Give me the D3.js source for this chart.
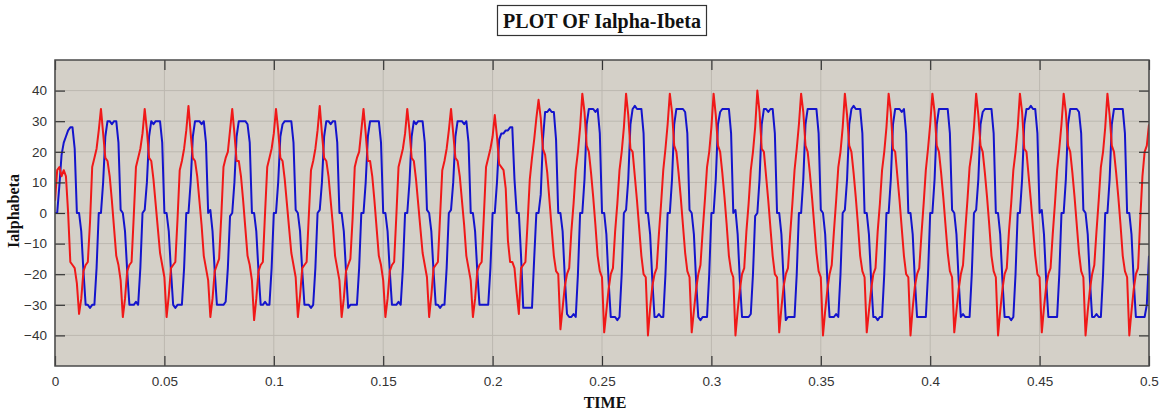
<!DOCTYPE html>
<html>
<head>
<meta charset="utf-8">
<script src="https://cdn.jsdelivr.net/npm/d3@7"></script>
<style>
  body { margin: 0; background: #fff; }
</style>
</head>
<body>
<div id="chartContainer"></div>
<script>
// time between two samples of the traces (1 ms), in seconds
var sampleStep = 0.001;

// Ialpha (blue trace), one row of 20 samples per 20 ms cycle
var ialphaRows = [
  [0, 0, 9, 19, 23, 25, 27, 28, 28, 21, 0, 0, -6, -19, -30, -30, -31, -30, -30, -18],
  [0, 0, 10, 25, 30, 30, 29, 30, 30, 23, 1, 0, -6, -19, -30, -30, -30, -29, -30, -18],
  [0, 1, 10, 25, 30, 29, 30, 30, 30, 23, 0, 0, -6, -19, -30, -31, -30, -30, -30, -18],
  [0, 0, 10, 25, 30, 30, 30, 29, 30, 23, 0, 1, -6, -19, -30, -30, -30, -30, -29, -18],
  [-1, 0, 10, 25, 30, 30, 30, 30, 29, 23, 0, 0, -6, -19, -30, -30, -29, -30, -30, -18],
  [0, 0, 10, 25, 29, 30, 30, 30, 30, 23, 1, 0, -6, -19, -30, -30, -30, -31, -30, -18],
  [0, 1, 10, 25, 30, 30, 29, 30, 30, 23, 0, 0, -6, -19, -31, -30, -30, -30, -30, -18],
  [0, 0, 10, 25, 30, 30, 30, 30, 30, 23, 0, 0, -6, -19, -30, -30, -30, -29, -30, -18],
  [0, 0, 10, 25, 30, 29, 30, 30, 30, 23, 1, 0, -6, -19, -30, -30, -31, -30, -30, -18],
  [0, 1, 10, 25, 30, 30, 30, 29, 30, 23, 0, 0, -6, -19, -30, -30, -30, -30, -30, -18],
  [0, 0, 10, 24, 26, 26, 27, 27, 28, 28, 11, 0, 0, -14, -31, -31, -31, -31, -31, -15],
  [0, 0, 6, 24, 33, 33, 34, 33, 33, 24, 0, 0, -6, -21, -33, -34, -34, -33, -34, -20],
  [0, 0, 11, 29, 34, 34, 34, 33, 34, 26, 0, 0, -7, -22, -34, -34, -34, -35, -34, -20],
  [0, 1, 11, 29, 34, 35, 34, 34, 34, 26, 0, 0, -7, -22, -34, -34, -33, -34, -34, -20],
  [0, 0, 11, 29, 34, 34, 34, 34, 33, 26, 1, 0, -7, -22, -34, -35, -34, -34, -34, -20],
  [0, 0, 11, 29, 33, 34, 34, 34, 34, 26, 0, 1, -7, -22, -34, -34, -34, -34, -33, -20],
  [-1, 0, 11, 29, 34, 34, 33, 34, 34, 26, 0, 0, -7, -22, -35, -34, -34, -34, -34, -20],
  [0, 0, 11, 29, 34, 34, 34, 34, 34, 26, 1, 0, -7, -22, -34, -34, -34, -33, -34, -20],
  [0, 1, 11, 29, 34, 35, 34, 34, 34, 26, 0, 0, -7, -22, -34, -34, -35, -34, -34, -20],
  [0, 0, 11, 29, 34, 34, 34, 33, 34, 26, 0, 0, -7, -22, -34, -34, -34, -34, -34, -20],
  [0, 0, 11, 29, 34, 34, 34, 34, 34, 26, 1, 0, -7, -22, -34, -33, -34, -34, -34, -20],
  [0, 1, 11, 29, 33, 34, 34, 34, 34, 26, 0, 0, -7, -22, -34, -34, -34, -35, -34, -20],
  [0, 0, 11, 29, 34, 34, 35, 34, 34, 26, 0, 1, -7, -22, -34, -34, -34, -34, -34, -20],
  [0, 0, 11, 29, 34, 34, 34, 34, 33, 26, 1, 0, -7, -22, -34, -34, -33, -34, -34, -20],
  [0, 0, 11, 29, 34, 34, 34, 34, 34, 26, 0, 0, -7, -22, -34, -34, -34, -34, -34, -30]
];
var ialphaLast = -14;

// Ibeta (red trace), same layout
var ibetaRows = [
  [4, 14, 15, 12, 14, 12, 0, -16, -17, -18, -23, -33, -28, -19, -17, -16, -3, 15, 18, 21],
  [27, 34, 26, 18, 17, 12, 4, -5, -14, -17, -22, -34, -28, -19, -17, -16, -1, 15, 18, 21],
  [26, 34, 27, 18, 17, 11, 3, -5, -13, -17, -21, -34, -27, -18, -17, -16, -2, 14, 17, 21],
  [27, 35, 26, 18, 17, 12, 4, -4, -14, -18, -22, -34, -28, -19, -17, -15, -1, 15, 18, 20],
  [27, 34, 26, 17, 17, 12, 4, -5, -14, -17, -22, -35, -28, -19, -17, -16, 0, 15, 18, 21],
  [26, 34, 27, 18, 17, 11, 3, -5, -13, -17, -21, -34, -27, -18, -17, -16, -1, 14, 17, 21],
  [27, 35, 26, 18, 17, 12, 4, -4, -14, -18, -22, -34, -28, -19, -17, -15, -2, 15, 18, 20],
  [27, 34, 26, 17, 17, 12, 4, -5, -14, -17, -22, -34, -28, -19, -17, -16, -1, 15, 18, 21],
  [26, 34, 27, 18, 17, 11, 3, -5, -13, -17, -21, -34, -27, -18, -17, -16, -1, 14, 17, 21],
  [27, 34, 26, 18, 17, 12, 4, -4, -14, -18, -22, -34, -28, -19, -17, -16, -1, 15, 18, 21],
  [25, 32, 25, 16, 15, 14, 8, -9, -16, -16, -18, -26, -33, -18, -17, -16, -3, 11, 18, 24],
  [31, 37, 31, 21, 19, 13, 4, -5, -14, -19, -20, -38, -31, -24, -20, -18, -6, 3, 14, 20],
  [28, 39, 33, 22, 20, 13, 5, -4, -14, -19, -21, -39, -32, -25, -20, -18, -6, 3, 14, 20],
  [28, 39, 32, 21, 20, 12, 4, -5, -14, -20, -21, -40, -31, -24, -20, -18, -7, 3, 14, 21],
  [29, 39, 33, 22, 20, 13, 5, -4, -13, -19, -21, -39, -32, -25, -20, -17, -6, 4, 15, 20],
  [28, 39, 32, 22, 20, 13, 5, -4, -14, -19, -21, -40, -32, -25, -20, -18, -6, 3, 14, 20],
  [28, 40, 33, 21, 20, 12, 4, -5, -14, -20, -21, -39, -31, -24, -20, -18, -7, 3, 14, 21],
  [29, 39, 33, 22, 20, 13, 5, -4, -13, -19, -21, -40, -32, -25, -20, -17, -6, 4, 15, 20],
  [28, 39, 32, 22, 20, 13, 5, -4, -14, -19, -21, -39, -32, -25, -20, -18, -6, 3, 14, 20],
  [28, 39, 33, 21, 20, 12, 4, -5, -14, -20, -21, -40, -31, -24, -20, -18, -7, 3, 14, 21],
  [29, 39, 33, 22, 20, 13, 5, -4, -13, -19, -21, -39, -32, -25, -20, -17, -6, 4, 15, 20],
  [28, 39, 32, 22, 20, 13, 5, -4, -14, -19, -21, -40, -32, -25, -20, -18, -6, 3, 14, 20],
  [28, 39, 33, 21, 20, 12, 4, -5, -14, -20, -21, -39, -31, -24, -20, -18, -7, 3, 14, 21],
  [29, 39, 33, 22, 20, 13, 5, -4, -13, -19, -21, -40, -32, -25, -20, -17, -6, 4, 15, 20],
  [28, 39, 32, 22, 20, 13, 5, -4, -14, -19, -21, -40, -32, -25, -20, -18, -2, 12, 20, 22]
];
var ibetaLast = 29;

var xTicks = [0, 0.05, 0.1, 0.15, 0.2, 0.25, 0.3, 0.35, 0.4, 0.45, 0.5];
var xTickLabels = ["0", "0.05", "0.1", "0.15", "0.2", "0.25", "0.3", "0.35", "0.4", "0.45", "0.5"];
var yTicks = [-40, -30, -20, -10, 0, 10, 20, 30, 40];

var width = 1163, height = 412;
// plot box edges (note: "top" is taken by window.top)
var plotLeft = 55, plotRight = 1149, plotTop = 60, plotBottom = 366;

var svg = d3.select("#chartContainer")
  .append("svg")
  .attr("width", width)
  .attr("height", height);

var x = d3.scaleLinear().domain([0, 0.5]).range([plotLeft, plotRight]);
var y = d3.scaleLinear().domain([-50, 50]).range([plotBottom, plotTop]);

// plot background
svg.append("rect")
  .attr("x", plotLeft).attr("y", plotTop)
  .attr("width", plotRight - plotLeft).attr("height", plotBottom - plotTop)
  .style("fill", "#d4d0c8");

// grid
svg.selectAll(".xgrid")
  .data(xTicks)
  .enter()
  .append("line")
  .attr("x1", function (d) { return x(d); })
  .attr("x2", function (d) { return x(d); })
  .attr("y1", plotTop).attr("y2", plotBottom)
  .style("stroke", "#bcb8b0")
  .style("stroke-width", 1);

svg.selectAll(".ygrid")
  .data(yTicks)
  .enter()
  .append("line")
  .attr("x1", plotLeft).attr("x2", plotRight)
  .attr("y1", function (d) { return y(d); })
  .attr("y2", function (d) { return y(d); })
  .style("stroke", "#bcb8b0")
  .style("stroke-width", 1);

// traces
svg.append("clipPath").attr("id", "plotClip")
  .append("rect")
  .attr("x", plotLeft).attr("y", plotTop)
  .attr("width", plotRight - plotLeft).attr("height", plotBottom - plotTop);

function toPoints(rows, last) {
  var vals = [].concat.apply([], rows).concat([last]);
  return vals.map(function (v, i) { return [i * sampleStep, v]; });
}

var line = d3.line()
  .x(function (d) { return x(d[0]); })
  .y(function (d) { return y(d[1]); });

svg.append("path")
  .datum(toPoints(ialphaRows, ialphaLast))
  .attr("d", line)
  .attr("clip-path", "url(#plotClip)")
  .style("fill", "none")
  .style("stroke", "#1414cc")
  .style("stroke-width", 2)
  .style("stroke-linejoin", "round");

svg.append("path")
  .datum(toPoints(ibetaRows, ibetaLast))
  .attr("d", line)
  .attr("clip-path", "url(#plotClip)")
  .style("fill", "none")
  .style("stroke", "#f01818")
  .style("stroke-width", 2)
  .style("stroke-linejoin", "round");

// axes, ticks pointing inward
var xAxis = d3.axisBottom(x).tickValues(xTicks)
  .tickFormat(function (d, i) { return xTickLabels[i]; })
  .tickSizeInner(-10).tickSizeOuter(0).tickPadding(10);
var yAxis = d3.axisLeft(y).tickValues(yTicks)
  .tickSizeInner(-10).tickSizeOuter(0).tickPadding(8);

var gx = svg.append("g").attr("transform", "translate(0," + plotBottom + ")").call(xAxis);
var gy = svg.append("g").attr("transform", "translate(" + plotLeft + ",0)").call(yAxis);
var gt = svg.append("g").attr("transform", "translate(0," + plotTop + ")")
  .call(d3.axisTop(x).tickValues(xTicks).tickFormat("").tickSizeInner(-10).tickSizeOuter(0));
var gr = svg.append("g").attr("transform", "translate(" + plotRight + ",0)")
  .call(d3.axisRight(y).tickValues(yTicks).tickFormat("").tickSizeInner(-10).tickSizeOuter(0));

[gx, gy, gt, gr].forEach(function (g) {
  g.select(".domain").remove();
  g.selectAll("line").style("stroke", "#333").style("stroke-width", 1.2);
  g.selectAll("text")
    .style("font-family", "'Liberation Sans', Arial, sans-serif")
    .style("font-size", "13.5px")
    .style("fill", "#333");
});

// frame
svg.append("rect")
  .attr("x", plotLeft).attr("y", plotTop)
  .attr("width", plotRight - plotLeft).attr("height", plotBottom - plotTop)
  .style("fill", "none")
  .style("stroke", "#4a4a4a")
  .style("stroke-width", 1.5);

// title in a box
svg.append("rect")
  .attr("x", 497.5).attr("y", 5.5)
  .attr("width", 209).attr("height", 30)
  .style("fill", "#fff")
  .style("stroke", "#333")
  .style("stroke-width", 1.2);

svg.append("text")
  .attr("x", 602).attr("y", 28)
  .attr("text-anchor", "middle")
  .style("font-family", "'Liberation Serif', 'Times New Roman', serif")
  .style("font-weight", "bold")
  .style("font-size", "20px")
  .style("fill", "#111")
  .text("PLOT OF Ialpha-Ibeta");

// axis titles
svg.append("text")
  .attr("x", 605).attr("y", 408)
  .attr("text-anchor", "middle")
  .style("font-family", "'Liberation Serif', 'Times New Roman', serif")
  .style("font-weight", "bold")
  .style("font-size", "16px")
  .style("fill", "#111")
  .text("TIME");

svg.append("text")
  .attr("transform", "translate(19,211) rotate(-90)")
  .attr("text-anchor", "middle")
  .style("font-family", "'Liberation Serif', 'Times New Roman', serif")
  .style("font-weight", "bold")
  .style("font-size", "16px")
  .style("fill", "#111")
  .text("Ialphabeta");
</script>
</body>
</html>
